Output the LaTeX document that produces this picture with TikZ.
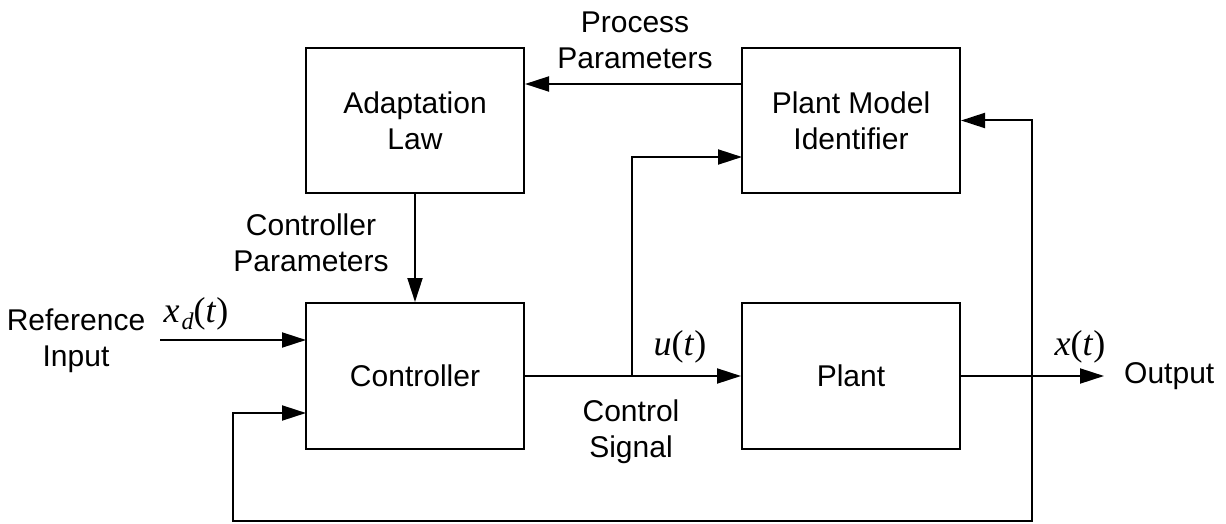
\documentclass[tikz,border=0pt]{standalone}
\usepackage{fontspec}
\setmainfont{Liberation Sans}
\newfontfamily\tms{Liberation Serif}
\usetikzlibrary{arrows.meta}
\begin{document}
\begin{tikzpicture}[x=1pt,y=-1pt,
  blk/.style={draw,line width=2pt,minimum width=218pt,minimum height=145pt,inner sep=0pt,align=center,font=\fontsize{30}{36}\selectfont},
  lbl/.style={align=center,inner sep=0pt,font=\fontsize{30}{36}\selectfont},
  mth/.style={inner sep=0pt,font=\tms\fontsize{36}{40}\selectfont},
  arr/.style={line width=2pt,-{Triangle[length=24pt,width=15pt]}},
  ln/.style={line width=2pt}]
\useasboundingbox (0,0) rectangle (1226,524);
% blocks
\node[blk] (adapt) at (415,120.5) {Adaptation\\Law};
\node[blk] (pmi) at (851,120.5) {Plant Model\\Identifier};
\node[blk,minimum height=146pt] (ctrl) at (415,376) {Controller};
\node[blk,minimum height=146pt] (plant) at (851,376) {Plant};
% coordinates
\coordinate (pp) at (742,84);
\coordinate (ref) at (160,340);
\coordinate (refin) at (306,340);
\coordinate (br) at (632,376);
\coordinate (pmiin) at (742,157);
\coordinate (fb) at (1032,376);
\coordinate (fbc) at (233,521);
\coordinate (ctrlin) at (306,413);
\coordinate (outtip) at (1104,376);
% labels
\node[lbl] (proc) at (635,40) {Process\\Parameters};
\node[lbl] (cpar) at (311,243) {Controller\\Parameters};
\node[lbl] (refl) at (76,341) {Reference\\Input};
\node[lbl] (csig) at (631,432) {Control\\Signal};
\node[lbl,anchor=west] (out) at (1124,376) {Output};
\node[mth] (xd) at (196,314) {\textit{x}\kern2pt\raisebox{-7pt}{\fontsize{24}{24}\selectfont\textit{d}}(\textit{t})};
\node[mth] (ut) at (680,347) {\textit{u}(\textit{t})};
\node[mth] (xt) at (1080,347) {\textit{x}(\textit{t})};
% connectors
\draw[arr] (pp) -- (adapt.east |- pp);
\draw[arr] (adapt.south) -- (ctrl.north);
\draw[arr] (ref) -- (refin);
\draw[arr] (ctrl.east) -- (plant.west);
\draw[arr] (br) |- (pmiin);
\draw[arr] (plant.east) -- (outtip);
\draw[arr] (fb) |- (pmi.east);
\draw[arr] (fb) |- (fbc) |- (ctrlin);
\end{tikzpicture}
\end{document}
